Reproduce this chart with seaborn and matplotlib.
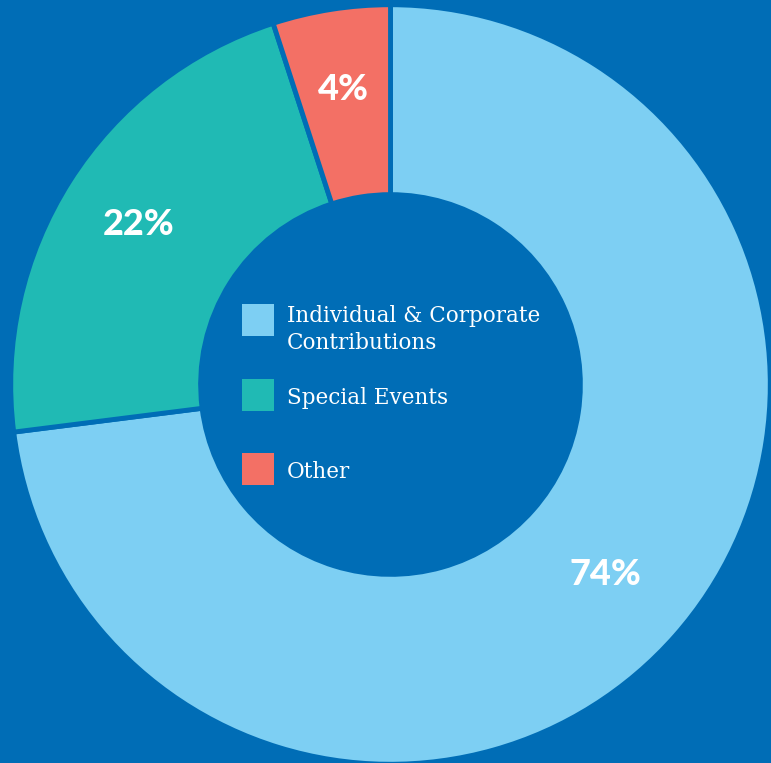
import matplotlib
matplotlib.use("Agg")
import matplotlib.pyplot as plt
import seaborn as sns
import numpy as np
from matplotlib.patches import Rectangle

categories = ["Individual & Corporate\nContributions", "Special Events", "Other"]
shares = [73, 22, 5]
pct_labels = ["74%", "22%", "4%"]
colors = ["#7DCFF3", "#20BAB4", "#F37065"]
bg = "#006DB6"

sns.set_theme(style="white")
plt.rcParams['font.family'] = ['DejaVu Sans']

W, H = 771, 763
fig = plt.figure(figsize=(W/100, H/100), dpi=100, facecolor=bg)
ax = fig.add_axes([0, 0, 1, 1])
ax.set_facecolor(bg)

cx, cy, R = 390.5, 384.5, 377.5
wedges, _ = ax.pie(shares, colors=colors, startangle=90, counterclock=False,
                   radius=1.006, wedgeprops=dict(width=0.503, edgecolor=bg, linewidth=3.5))
ax.set_xlim(-cx/R, (W-cx)/R)
ax.set_ylim((cy-H)/R, cy/R)
ax.set_aspect('equal')
ax.axis('off')

dist = [0.76, 0.79, 0.79]
for w, lab, d in zip(wedges, pct_labels, dist):
    th = np.deg2rad((w.theta1 + w.theta2) / 2)
    ax.text(d*np.cos(th), d*np.sin(th), lab, ha='center', va='center',
            color='white', fontsize=26, fontweight='black', family=['Lato', 'DejaVu Sans'])

# legend in the hole
sq_tops = [304, 379, 453]
text_y = [322, 404, 478]
line_gap = 27
for col, top, cat, ty in zip(colors, sq_tops, categories, text_y):
    ax.add_patch(Rectangle(((242-cx)/R, (cy-(top+32))/R), 32/R, 32/R,
                           facecolor=col, edgecolor='none'))
    for i, line in enumerate(cat.split("\n")):
        ax.text((287-cx)/R, (cy-(ty + i*line_gap))/R, line, ha='left', va='baseline',
                color='white', fontsize=15.5, family=['DejaVu Serif'])

fig.savefig("out.png", dpi=100, facecolor=bg)
